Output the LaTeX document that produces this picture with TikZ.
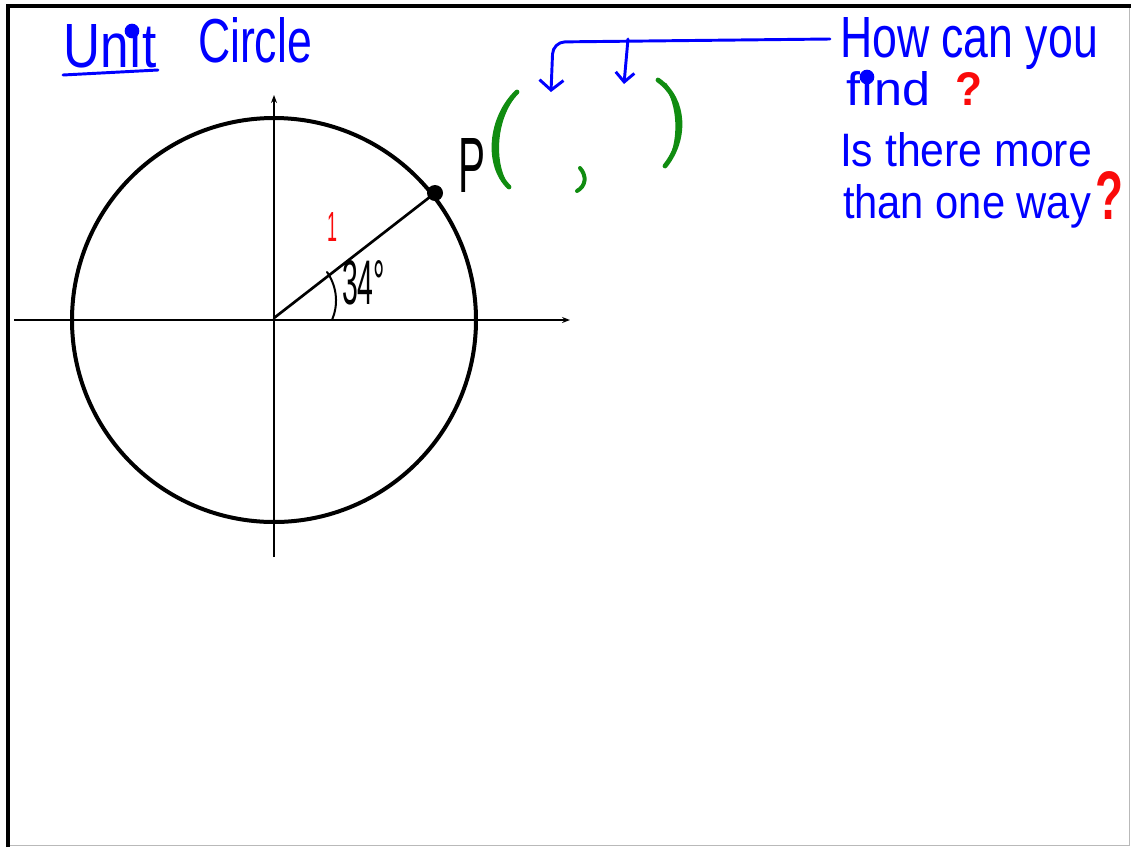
\documentclass[tikz,border=0pt]{standalone}
\usepackage{graphicx}
\usepackage{fontspec}
\setmainfont{Liberation Sans}
\usetikzlibrary{arrows.meta}
\definecolor{penblue}{RGB}{0,0,255}
\definecolor{penred}{RGB}{250,10,10}
\definecolor{pengreen}{RGB}{16,140,16}
\newlength\pxu
\setlength\pxu{0.75pt}
\newcommand{\fitpx}[3]{\resizebox{#1\pxu}{#2\pxu}{\fontsize{40}{48}\selectfont #3}}
\begin{document}
\begin{tikzpicture}[x=0.75pt,y=-0.75pt,
  txt/.style={anchor=base west,inner sep=0pt,outer sep=0pt},
  ink/.style={line cap=round,line join=round},
  bluepen/.style={ink,draw=penblue,line width=2.2pt},
  greenpen/.style={ink,draw=pengreen,line width=3.6pt},
  axisline/.style={line width=1.1pt,-{Stealth[length=6pt,width=4.5pt]}},
  bigtip/.style={-{Straight Barb[length=7.5pt,width=18pt]}},
  smalltip/.style={-{Straight Barb[length=7pt,width=14pt]}}]
\useasboundingbox (0,0) rectangle (1131,847);
% frame
\draw[gray!55,line width=1pt] (1129.5,5) -- (1129.5,845.7) -- (8,845.7);
\draw[line width=3pt] (7.5,847) -- (7.5,5.5) -- (1131,5.5);
% axes and circle
\coordinate (O) at (274,320);
\coordinate (xl) at (14,320);
\coordinate (xr) at (570,320);
\coordinate (yb) at (274,557);
\coordinate (yt) at (274,95);
\draw[axisline] (xl) -- (xr);
\draw[axisline] (yb) -- (yt);
\node (C) [circle,draw,line width=3pt,minimum size=404\pxu,inner sep=0pt] at (O) {};
\node (Pt) [circle,fill,inner sep=0pt,minimum size=12pt] at (435,193) {};
\draw[line width=2pt,ink] (274,318) -- (Pt.center);
\draw[line width=1.5pt,ink] (327,272) .. controls (338,288) and (338,306) .. (332,320);
% labels on the circle
\node[txt,penred] (one) at (327,241) {\fitpx{10}{29}{1}};
\node[txt] (ang) at (342,304) {\fitpx{43}{44}{34°}};
\node[txt] (plabel) at (458,192) {\fitpx{27}{54}{P}};
% green coordinates
\draw[greenpen] (517,92) .. controls (490,118) and (486,165) .. (509,187);
\draw[greenpen,line width=2.4pt] (514,96) .. controls (494,122) and (494,160) .. (504,180);
\draw[greenpen] (658,80) .. controls (686,100) and (686,140) .. (665,166);
\draw[greenpen,line width=2.4pt] (665,84) .. controls (680,105) and (680,140) .. (670,160);
\draw[greenpen,line width=3pt] (580,168) .. controls (587,176) and (586,186) .. (577,191);
% title
\node[txt,penblue] (unit) at (63,67) {\fitpx{94}{43}{Unıt}};
\node[txt,penblue] (circ) at (198,62) {\fitpx{114}{45}{Circle}};
\draw[bluepen] (63,75) -- (158,70);
\fill[penblue] (132,31) circle (5.5pt);
% questions
\node[txt,penblue] (how) at (840,57) {\fitpx{258}{40}{How can you}};
\node[txt,penblue] (find) at (846,105) {\fitpx{84}{34}{fınd}};
\fill[penblue] (867,77) circle (5.5pt);
\node[txt,penred] (q1) at (955,105) {\fitpx{27}{33}{\bfseries ?}};
\node[txt,penblue] (more) at (840,166) {\fitpx{252}{34}{Is there more}};
\node[txt,penblue] (way) at (843,218) {\fitpx{248}{34}{than one way}};
\node[txt,penred] (q2) at (1095,219) {\fitpx{28}{48}{\bfseries ?}};
% blue bracket arrows
\coordinate (bStart) at (830,39);
\coordinate (bCorner) at (553,42);
\coordinate (tipA) at (551,92);
\coordinate (branch) at (628,39);
\coordinate (tipB) at (624,84);
\draw[bluepen,rounded corners=9pt,bigtip] (bStart) -- (bCorner) -- (tipA);
\draw[bluepen,smalltip] (branch) -- (tipB);
\end{tikzpicture}
\end{document}
